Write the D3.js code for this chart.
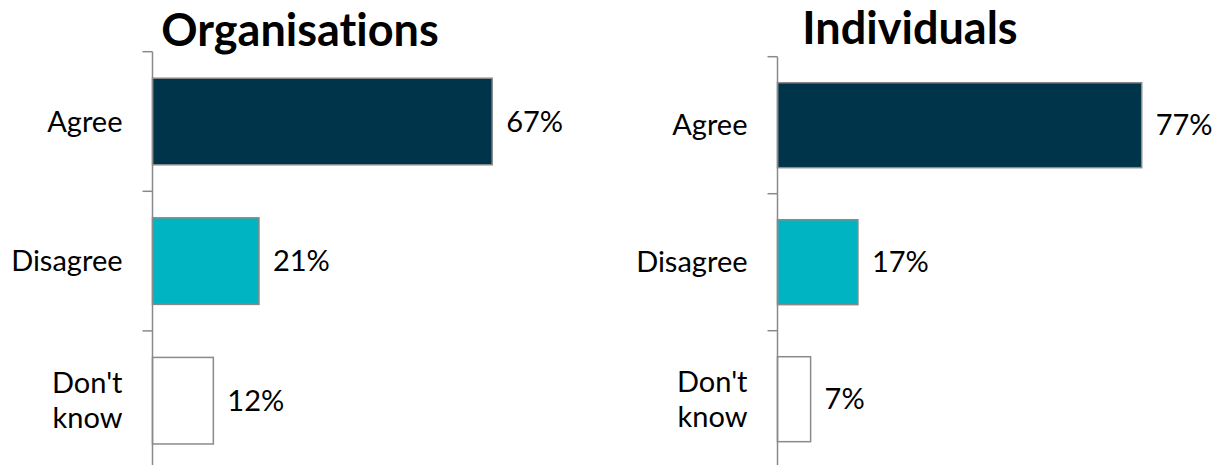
<!DOCTYPE html>
<html>
<head>
<meta charset="utf-8">
<script src="https://cdn.jsdelivr.net/npm/d3@7"></script>
<style>
  html, body { margin: 0; padding: 0; background: #ffffff; }
  svg { display: block; }
  text { font-family: Lato, "Open Sans", sans-serif; fill: #000; font-variant-ligatures: none; font-feature-settings: "liga" 0, "dlig" 0; }
</style>
</head>
<body>
<div id="chart"></div>
<script>
// Survey responses: share answering each option, by respondent group
const categories = ["Agree", "Disagree", "Don't know"];
const organisationValues = [67, 21, 12];
const individualValues = [77, 17, 7];
const panelTitles = ["Organisations", "Individuals"];

const barFills = ["#00344b", "#00b5c1", "#ffffff"];

const width = 1226, height = 465;

const svg = d3.select("#chart").append("svg")
  .attr("width", width)
  .attr("height", height);

svg.append("rect").attr("width", width).attr("height", height).attr("fill", "#fff");

// Layout of each small panel
const panels = [
  { title: panelTitles[0], values: organisationValues, axisX: 152.5, top: 51.7, step: 139.6, pxPerPct: 5.07, titleX: 300, titleY: 46 },
  { title: panelTitles[1], values: individualValues, axisX: 777.5, top: 56.7, step: 137, pxPerPct: 4.73, titleX: 910, titleY: 44 }
];

panels.forEach(p => {
  const g = svg.append("g");

  const x = d3.scaleLinear()
    .domain([0, 100])
    .range([p.axisX, p.axisX + 100 * p.pxPerPct]);

  const y = d3.scaleBand()
    .domain(categories)
    .range([p.top, p.top + categories.length * p.step])
    .paddingInner(0.38)
    .paddingOuter(0.19);

  // Title
  g.append("text")
    .attr("x", p.titleX)
    .attr("y", p.titleY)
    .attr("text-anchor", "middle")
    .attr("font-size", 45)
    .attr("font-weight", "bold")
    .text(p.title);

  // Bars
  g.selectAll("rect.bar")
    .data(categories)
    .join("rect")
    .attr("class", "bar")
    .attr("x", x(0))
    .attr("y", d => y(d))
    .attr("width", (d, i) => x(p.values[i]) - x(0))
    .attr("height", y.bandwidth())
    .attr("fill", (d, i) => barFills[i])
    .attr("stroke", "#8a8a8a")
    .attr("stroke-width", 1.5);

  // Category axis: vertical line with ticks at band boundaries
  const bounds = d3.range(categories.length + 1).map(i => y.range()[0] + i * y.step());
  g.append("line")
    .attr("x1", x(0)).attr("x2", x(0))
    .attr("y1", bounds[0]).attr("y2", bounds[bounds.length - 1])
    .attr("stroke", "#8a8a8a").attr("stroke-width", 1.5);
  g.selectAll("line.tick")
    .data(bounds)
    .join("line")
    .attr("class", "tick")
    .attr("x1", x(0) - 10).attr("x2", x(0))
    .attr("y1", d => d).attr("y2", d => d)
    .attr("stroke", "#8a8a8a").attr("stroke-width", 1.5);

  // Category labels (wrapped onto lines)
  const labelLines = { "Agree": ["Agree"], "Disagree": ["Disagree"], "Don't know": ["Don't", "know"] };
  const lineH = 35;
  categories.forEach(c => {
    const lines = labelLines[c];
    const cy = y(c) + y.bandwidth() / 2;
    const t = g.append("text")
      .attr("text-anchor", "end")
      .attr("font-size", 29);
    lines.forEach((ln, k) => {
      t.append("tspan")
        .attr("x", x(0) - 30)
        .attr("y", cy + (k - (lines.length - 1) / 2) * lineH)
        .attr("dy", "0.35em")
        .text(ln);
    });
  });

  // Value labels
  g.selectAll("text.value")
    .data(categories)
    .join("text")
    .attr("class", "value")
    .attr("x", (d, i) => x(p.values[i]) + 14)
    .attr("y", d => y(d) + y.bandwidth() / 2)
    .attr("dy", "0.35em")
    .attr("font-size", 29)
    .text((d, i) => p.values[i] + "%");
});
</script>
</body>
</html>
